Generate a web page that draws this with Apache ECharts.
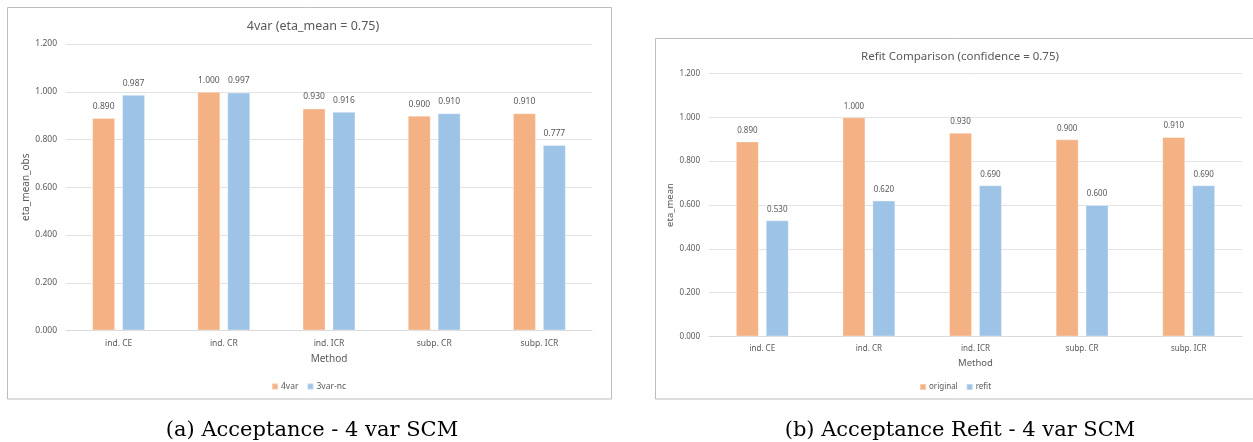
<!DOCTYPE html>
<html>
<head>
<meta charset="utf-8">
<script src="https://cdn.jsdelivr.net/npm/echarts@6/dist/echarts.min.js"></script>
<style>
  html, body { margin: 0; padding: 0; background: #ffffff; }
  #chart { width: 1253px; height: 442px; }
</style>
</head>
<body>
<div id="chart"></div>
<script>
// Methods compared on the x axis of both panels
const methods = ['ind. CE', 'ind. CR', 'ind. ICR', 'subp. CR', 'subp. ICR'];

// Panel (a): observed eta_mean for the 4-variable SCM vs. the 3-variable model without confounder
const acc4var = [0.890, 1.000, 0.930, 0.900, 0.910];
const acc3varNc = [0.987, 0.997, 0.916, 0.910, 0.777];

// Panel (b): eta_mean before and after refitting
const refitOriginal = [0.890, 1.000, 0.930, 0.900, 0.910];
const refitRefit = [0.530, 0.620, 0.690, 0.600, 0.690];

// Shared value-axis ticks
const yTicks = [0, 0.2, 0.4, 0.6, 0.8, 1.0, 1.2];

const ORANGE = '#F4B183';
const BLUE = '#9DC3E6';
const TEXT = '#595959';
const FONT = 'Noto Sans';

function xAxisFor(gridIndex, fs, labelMargin, nameGap) {
  return {
    type: 'category',
    gridIndex: gridIndex,
    data: methods,
    name: 'Method',
    nameLocation: 'middle',
    nameGap: nameGap,
    nameTextStyle: { color: TEXT, fontSize: fs + 1.5, fontFamily: FONT },
    axisLine: { show: true, lineStyle: { color: '#d9d9d9', width: 1 } },
    axisTick: { show: false },
    axisLabel: { color: TEXT, fontSize: fs, fontFamily: FONT, margin: labelMargin }
  };
}

function yAxisFor(gridIndex, fs, name, nameGap) {
  return {
    type: 'value',
    gridIndex: gridIndex,
    min: yTicks[0],
    max: yTicks[yTicks.length - 1],
    interval: 0.2,
    name: name,
    nameLocation: 'middle',
    nameGap: nameGap,
    nameTextStyle: { color: TEXT, fontSize: fs + 1.5, fontFamily: FONT },
    axisLine: { show: false },
    axisTick: { show: false },
    axisLabel: {
      color: TEXT, fontSize: fs, fontFamily: FONT, margin: 9,
      formatter: v => v.toFixed(3)
    },
    splitLine: { lineStyle: { color: '#e3e3e3', width: 1 } }
  };
}

function barSeries(name, data, color, axisIndex, fs) {
  return {
    type: 'bar',
    name: name,
    data: data,
    xAxisIndex: axisIndex,
    yAxisIndex: axisIndex,
    barWidth: 23,
    barGap: '30%',
    itemStyle: { color: color, borderColor: 'rgba(255,255,255,0.35)', borderWidth: 1 },
    label: {
      show: true,
      position: 'top',
      distance: 7,
      color: TEXT,
      fontSize: fs,
      fontFamily: FONT,
      formatter: p => p.value.toFixed(3)
    }
  };
}

const chart = echarts.init(document.getElementById('chart'), null, { renderer: 'canvas' });

const LEFT_CX = 308;
const RIGHT_CX = 955;

chart.setOption({
  backgroundColor: '#ffffff',
  animation: false,
  graphic: [
    // chart area frames
    { type: 'rect', shape: { x: 7.5, y: 7.5, width: 604, height: 391.5 },
      style: { fill: 'none', stroke: '#bdbdbd', lineWidth: 1 }, z: -1 },
    { type: 'rect', shape: { x: 655.5, y: 38.5, width: 610, height: 360.5 },
      style: { fill: 'none', stroke: '#bdbdbd', lineWidth: 1 }, z: -1 }
  ],
  title: [
    { text: '4var (eta_mean = 0.75)', left: LEFT_CX, top: 15, textAlign: 'center',
      textStyle: { color: TEXT, fontSize: 12.5, fontWeight: 'normal', fontFamily: FONT } },
    { text: 'Refit Comparison (confidence = 0.75)', left: RIGHT_CX, top: 46, textAlign: 'center',
      textStyle: { color: TEXT, fontSize: 11.5, fontWeight: 'normal', fontFamily: FONT } },
    { text: '(a) Acceptance - 4 var SCM', left: 307, top: 415, textAlign: 'center',
      textStyle: { color: '#000', fontSize: 21, fontWeight: 'normal', fontFamily: 'DejaVu Serif' } },
    { text: '(b) Acceptance Refit - 4 var SCM', left: RIGHT_CX, top: 415, textAlign: 'center',
      textStyle: { color: '#000', fontSize: 21, fontWeight: 'normal', fontFamily: 'DejaVu Serif' } }
  ],
  legend: [
    { data: ['4var', '3var-nc'], left: LEFT_CX, top: 377, orient: 'horizontal',
      itemWidth: 6, itemHeight: 6, itemGap: 8, icon: 'rect',
      textStyle: { color: TEXT, fontSize: 8.5, fontFamily: FONT, padding: [0, 0, 0, -2] } },
    { data: ['original', 'refit'], left: RIGHT_CX, top: 378, orient: 'horizontal',
      itemWidth: 6, itemHeight: 6, itemGap: 8, icon: 'rect',
      textStyle: { color: TEXT, fontSize: 8, fontFamily: FONT, padding: [0, 0, 0, -2] } }
  ],
  grid: [
    { left: 66, right: 1253 - 592, top: 44, bottom: 442 - 330.5 },
    { left: 709, right: 1253 - 1242, top: 73.5, bottom: 442 - 336.5 }
  ],
  xAxis: [xAxisFor(0, 8.5, 9, 24), xAxisFor(1, 8, 8, 22)],
  yAxis: [yAxisFor(0, 8.5, 'eta_mean_obs', 35), yAxisFor(1, 8, 'eta_mean', 33)],
  series: [
    barSeries('4var', acc4var, ORANGE, 0, 8.5),
    barSeries('3var-nc', acc3varNc, BLUE, 0, 8.5),
    barSeries('original', refitOriginal, ORANGE, 1, 8),
    barSeries('refit', refitRefit, BLUE, 1, 8)
  ]
});

// center each legend on its panel's x anchor
function centerLegends() {
  const model = chart.getModel();
  const anchors = [LEFT_CX, RIGHT_CX];
  const updates = anchors.map((cx, i) => {
    const view = chart.getViewOfComponentModel(model.getComponent('legend', i));
    const rect = view.group.getBoundingRect();
    return { left: Math.round(cx - rect.width / 2) };
  });
  chart.setOption({ legend: updates });
}
centerLegends();
</script>
</body>
</html>
